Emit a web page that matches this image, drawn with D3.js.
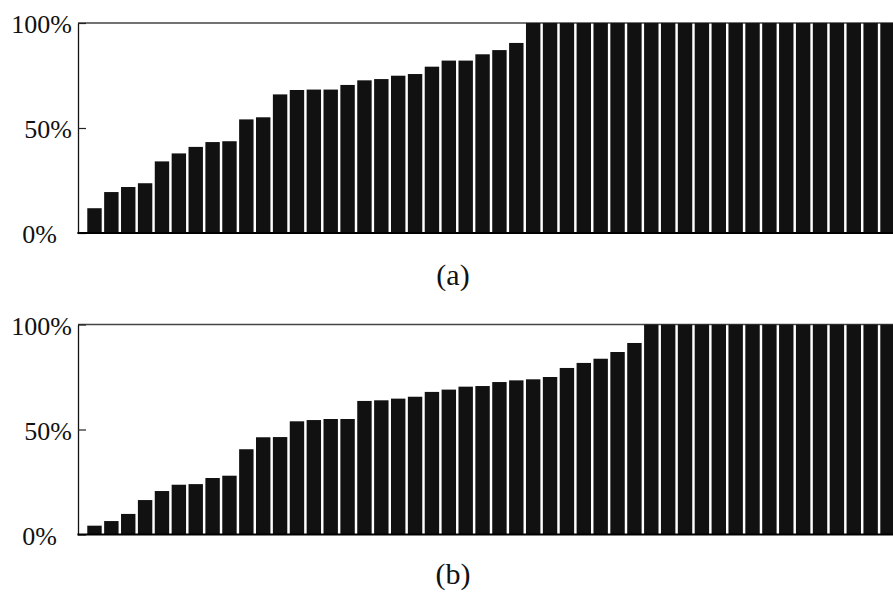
<!DOCTYPE html>
<html>
<head>
<meta charset="utf-8" />
<title>Per-item scores</title>
<style>
  body { margin: 0; background: #fff; }
  svg { display: block; }
  .tick text { font-family: "Liberation Serif", "DejaVu Serif", serif; font-size: 26px; fill: #111; }
  .caption { font-family: "Liberation Serif", "DejaVu Serif", serif; font-size: 30px; fill: #111; }
</style>
</head>
<body>
<div id="chart"></div>
<script src="https://cdnjs.cloudflare.com/ajax/libs/d3/7.8.5/d3.min.js"></script>
<script>
// bar index (48 items per panel)
var categories = [1,2,3,4,5,6,7,8,9,10,11,12,13,14,15,16,17,18,19,20,21,22,23,24,
                  25,26,27,28,29,30,31,32,33,34,35,36,37,38,39,40,41,42,43,44,45,46,47,48];

// panel (a), percent
var valuesA = [11.8,19.5,21.9,23.7,34.1,37.9,41.0,43.3,43.7,54.1,
               55.1,66.0,68.1,68.3,68.3,70.5,72.7,73.3,74.9,75.7,
               79.2,82.1,82.1,85.1,87.1,90.5,100,100,100,100,
               100,100,100,100,100,100,100,100,100,100,
               100,100,100,100,100,100,100,100];

// panel (b), percent
var valuesB = [4.2,6.4,9.8,16.4,20.7,23.7,24.0,26.9,28.0,40.6,
               46.3,46.4,53.9,54.5,55.0,55.0,63.6,63.9,64.7,65.6,
               67.9,69.0,70.4,70.7,72.6,73.4,73.9,75.0,79.3,81.7,
               83.7,86.9,91.2,100,100,100,100,100,100,100,
               100,100,100,100,100,100,100,100];

var yTicks = [0, 50, 100];
var captions = ["(a)", "(b)"];

var W = 893, H = 592;
var left = 78, plotH = 210;
var panelTops = [23, 324.5];
var captionY = [285, 584];
var captionX = 453;

var svg = d3.select("#chart").append("svg")
    .attr("width", W)
    .attr("height", H);

var x = d3.scaleBand()
    .domain(categories)
    .range([left, 904])
    .paddingInner(0.146)
    .paddingOuter(0.55);

function drawPanel(values, top, caption, capY) {
    var y = d3.scaleLinear().domain([0, 100]).range([top + plotH, top]);
    var g = svg.append("g");

    // top frame line
    g.append("line")
        .attr("x1", left).attr("x2", W)
        .attr("y1", y(100)).attr("y2", y(100))
        .attr("stroke", "#444").attr("stroke-width", 1.3);

    g.append("g")
        .selectAll("rect")
        .data(values)
        .join("rect")
        .attr("x", function (d, i) { return x(categories[i]); })
        .attr("width", x.bandwidth())
        .attr("y", function (d) { return y(d); })
        .attr("height", function (d) { return y(0) - y(d); })
        .attr("fill", "#111");

    var yAxis = d3.axisLeft(y)
        .tickValues(yTicks)
        .tickSizeInner(-8)
        .tickSizeOuter(0)
        .tickPadding(6)
        .tickFormat(function (d) { return d + "%"; });

    var ax = g.append("g")
        .attr("transform", "translate(" + left + ",0)")
        .call(yAxis);
    ax.select(".domain").attr("stroke", "#111").attr("stroke-width", 1.3);
    ax.selectAll(".tick line").attr("stroke", "#222").attr("stroke-width", 1.2);
    ax.selectAll(".tick text")
        .attr("dy", "0.38em")
        .attr("x", function (d) { return d === 0 ? -21 : -6; });

    // bottom baseline
    g.append("line")
        .attr("x1", left - 0.6).attr("x2", W)
        .attr("y1", y(0)).attr("y2", y(0))
        .attr("stroke", "#000").attr("stroke-width", 2.2);

    svg.append("text")
        .attr("class", "caption")
        .attr("x", captionX)
        .attr("y", capY)
        .attr("text-anchor", "middle")
        .text(caption);
}

drawPanel(valuesA, panelTops[0], captions[0], captionY[0]);
drawPanel(valuesB, panelTops[1], captions[1], captionY[1]);
</script>
</body>
</html>
